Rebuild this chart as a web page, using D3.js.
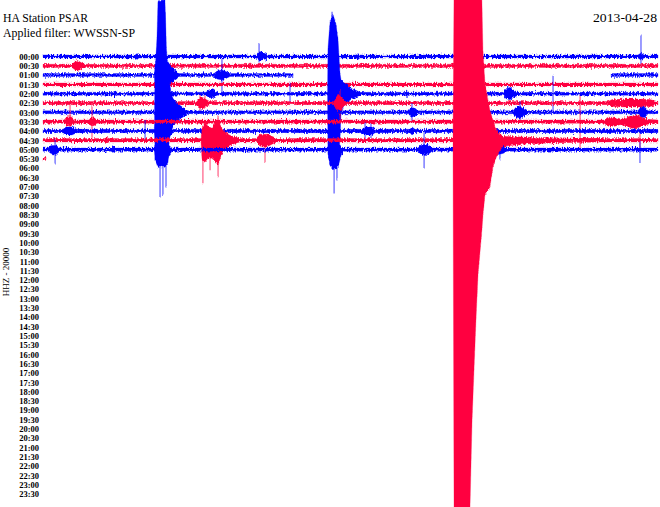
<!DOCTYPE html>
<html>
<head>
<meta charset="utf-8">
<script src="https://cdn.jsdelivr.net/npm/d3@7"></script>
<style>
  body { margin: 0; background: #fff; }
  svg { display: block; }
</style>
</head>
<body>
<div id="chart"></div>
<script>
// Helicorder plot: station PSAR, one row per 30 minutes, minutes 0-30 across.

const stationTitle = "HA Station PSAR";
const filterTitle = "Applied filter: WWSSN-SP";
const dateTitle = "2013-04-28";
const channelLabel = "HHZ - 20000";

const rowLabels = [
  "00:00", "00:30", "01:00", "01:30", "02:00", "02:30", "03:00", "03:30",
  "04:00", "04:30", "05:00", "05:30", "06:00", "06:30", "07:00", "07:30",
  "08:00", "08:30", "09:00", "09:30", "10:00", "10:30", "11:00", "11:30",
  "12:00", "12:30", "13:00", "13:30", "14:00", "14:30", "15:00", "15:30",
  "16:00", "16:30", "17:00", "17:30", "18:00", "18:30", "19:00", "19:30",
  "20:00", "20:30", "21:00", "21:30", "22:00", "22:30", "23:00", "23:30"
];

// alternating trace colours (even rows blue, odd rows red)
const traceColors = ["#0000ff", "#ff0040"];

// background noise half-amplitude per row, in thousands of counts
const noiseLevel = [3.2, 3.2, 3.0, 2.9, 3.0, 3.2, 3.0, 3.4, 3.4, 3.4, 3.2, 2.9];

// minutes with data in each row
const dataSpans = [
  [[0, 30]], [[0, 30]], [[0, 12.2], [27.71, 30]], [[0, 30]],
  [[0, 30]], [[0, 30]], [[0, 30]], [[0, 30]],
  [[0, 30]], [[0, 30]], [[0, 30]], [[0, 0.15]]
];

// signal envelopes: [minute, up, down] in thousands of counts
// (front: drawn over every row, as the big 04:50 arrival is)
const events = [
  { row: 0, env: [[4.49, 3.2, 3.2], [4.59, 6, 6], [4.68, 3.2, 3.2]] },
  { row: 0, env: [[10.39, 3.2, 3.2], [10.49, 8, 6], [10.59, 10, 8], [10.73, 8, 6], [10.88, 5, 5], [10.98, 3.2, 3.2]] },
  { row: 0, env: [[15.27, 3.2, 3.2], [15.37, 6, 6], [15.46, 3.2, 3.2]] },
  { row: 0, env: [[29.02, 3.2, 3.2], [29.17, 7, 7], [29.32, 3.2, 3.2]] },

  { row: 1, env: [[1.41, 3.2, 3.2], [1.56, 8, 8], [1.66, 11, 10], [1.80, 8, 8], [2.0, 3.2, 3.2]] },
  { row: 1, env: [[10.0, 3.2, 3.2], [10.10, 6, 6], [10.20, 3.2, 3.2]] },

  { row: 2, env: [[5.44, 3.0, 3.0], [5.46, 20, 20], [5.61, 40, 40], [5.95, 36, 36], [6.20, 20, 20], [6.39, 12, 12], [6.54, 7, 7], [6.63, 3.0, 3.0]] },
  { row: 2, env: [[8.34, 3.0, 3.0], [8.49, 8, 8], [8.73, 10, 10], [8.98, 6, 6], [9.12, 3.0, 3.0]] },

  { row: 4, env: [[3.41, 3.0, 3.0], [3.51, 6, 6], [3.61, 3.0, 3.0]] },
  { row: 4, env: [[7.95, 3.0, 3.0], [8.10, 8, 8], [8.29, 8, 8], [8.49, 3.0, 3.0]] },
  { row: 4, env: [[13.88, 3.0, 3.0], [13.90, 90, 120], [14.0, 144, 144], [14.15, 158, 150], [14.29, 140, 150], [14.39, 110, 130], [14.49, 40, 90], [14.54, 28, 40], [14.68, 22, 22], [14.88, 16, 16], [15.07, 10, 10], [15.32, 6, 6], [15.46, 3.0, 3.0]] },
  { row: 4, env: [[17.66, 3.0, 3.0], [17.76, 6, 6], [17.85, 3.0, 3.0]] },
  { row: 4, env: [[19.12, 3.0, 3.0], [19.22, 6, 6], [19.32, 3.0, 3.0]] },
  { row: 4, env: [[22.44, 3.0, 3.0], [22.59, 10, 10], [22.78, 13, 12], [22.93, 8, 8], [23.17, 3.0, 3.0]] },

  { row: 5, env: [[7.46, 3.2, 3.2], [7.61, 10, 10], [7.80, 11, 11], [8.0, 6, 6], [8.15, 3.2, 3.2]] },
  { row: 5, env: [[14.20, 3.2, 3.2], [14.29, 10, 10], [14.39, 18, 22], [14.49, 14, 24], [14.63, 8, 8], [14.78, 3.2, 3.2]] },
  { row: 5, env: [[27.56, 3.2, 3.2], [27.76, 7, 7], [28.39, 8, 8], [29.12, 8, 8], [29.61, 7, 7], [29.85, 4.5, 4.5]] },

  { row: 6, env: [[5.44, 3.0, 3.0], [5.46, 75, 80], [5.56, 150, 100], [5.61, 224, 108], [5.95, 224, 110], [6.02, 130, 106], [6.10, 80, 100], [6.15, 70, 60], [6.24, 40, 36], [6.34, 28, 28], [6.49, 20, 20], [6.68, 14, 14], [6.88, 8, 8], [7.07, 3.0, 3.0]] },
  { row: 6, env: [[17.85, 3.0, 3.0], [17.95, 10, 10], [18.15, 8, 8], [18.29, 3.0, 3.0]] },
  { row: 6, env: [[22.93, 3.0, 3.0], [23.07, 10, 10], [23.32, 12, 12], [23.51, 7, 7], [23.66, 3.0, 3.0]] },
  { row: 6, env: [[29.02, 3.0, 3.0], [29.17, 11, 11], [29.37, 10, 10], [29.51, 3.0, 3.0]] },

  { row: 7, env: [[1.02, 3.4, 3.4], [1.17, 10, 8], [1.37, 10, 8], [1.56, 3.4, 3.4]] },
  { row: 7, env: [[2.24, 3.4, 3.4], [2.34, 8, 8], [2.49, 8, 8], [2.63, 3.4, 3.4]] },
  { row: 7, env: [[27.37, 3.4, 3.4], [27.56, 9, 9], [27.90, 9, 9], [28.15, 6, 6], [28.49, 9, 9], [28.73, 13, 13], [29.02, 12, 12], [29.27, 8, 8], [29.51, 5, 5]] },

  { row: 8, env: [[0.98, 3.4, 3.4], [1.12, 8, 8], [1.41, 8, 8], [1.66, 3.4, 3.4]] },
  { row: 8, env: [[5.44, 3.4, 3.4], [5.46, 14, 14], [5.71, 16, 16], [6.10, 16, 16], [6.24, 8, 8], [6.34, 3.4, 3.4]] },
  { row: 8, env: [[15.56, 3.4, 3.4], [15.71, 8, 8], [16.05, 8, 8], [16.20, 3.4, 3.4]] },
  { row: 8, env: [[17.90, 3.4, 3.4], [18.0, 8, 8], [18.15, 3.4, 3.4]] },

  { row: 9, env: [[3.02, 3.4, 3.4], [3.12, 6, 6], [3.22, 3.4, 3.4]] },
  { row: 9, env: [[7.71, 3.4, 3.4], [7.76, 24, 40], [7.90, 36, 44], [8.05, 28, 36], [8.24, 24, 36], [8.44, 40, 44], [8.54, 40, 50], [8.68, 28, 32], [8.88, 16, 16], [9.12, 10, 10], [9.41, 6, 6], [9.61, 3.4, 3.4]] },
  { row: 9, env: [[10.39, 3.4, 3.4], [10.59, 12, 12], [10.98, 12, 12], [11.22, 7, 7], [11.41, 3.4, 3.4]] },
  { row: 9, front: true, env: [[20.0, 3.4, 3.4], [20.05, 300, 740], [20.83, 300, 734], [20.93, 300, 560], [21.12, 300, 360], [21.22, 300, 270], [21.41, 280, 180], [21.46, 180, 150], [21.56, 114, 110], [21.80, 60, 94], [21.95, 40, 54], [22.05, 26, 40], [22.20, 16, 26], [22.44, 8, 12], [23.76, 6, 7], [25.22, 5, 5], [27.17, 3.4, 3.4]] },

  { row: 10, env: [[0.24, 3.2, 3.2], [0.39, 8, 8], [0.63, 8, 10], [0.83, 3.2, 3.2]] },
  { row: 10, env: [[3.32, 3.2, 3.2], [3.41, 6, 6], [3.51, 3.2, 3.2]] },
  { row: 10, env: [[5.44, 3.2, 3.2], [5.46, 10, 20], [5.61, 16, 36], [6.0, 16, 32], [6.15, 8, 12], [6.29, 3.2, 3.2]] },
  { row: 10, env: [[13.90, 3.2, 3.2], [13.95, 10, 20], [14.15, 16, 40], [14.39, 16, 36], [14.54, 6, 12], [14.68, 3.2, 3.2]] },
  { row: 10, env: [[18.29, 3.2, 3.2], [18.44, 10, 10], [18.78, 10, 10], [18.98, 3.2, 3.2]] },
  { row: 10, env: [[22.05, 3.2, 3.2], [22.20, 10, 10], [22.44, 8, 8], [22.63, 3.2, 3.2]] }
];

// single large swings: [row, minute, up, down] in thousands of counts
const spikes = [
  [0, 10.54, 26, 12], [0, 29.17, 42, 16],
  [2, 8.73, 32, 36],
  [4, 12.05, 22, 18], [4, 14.10, 164, 0], [4, 24.88, 36, 34],
  [5, 7.66, 16, 16], [5, 7.90, 14, 12], [5, 14.49, 26, 32],
  [6, 5.66, 230, 0], [6, 5.85, 230, 0], [6, 5.95, 200, 0], [6, 18.0, 18, 22], [6, 23.27, 22, 22],
  [7, 1.32, 42, 18], [7, 2.39, 32, 32], [7, 26.20, 52, 52],
  [8, 4.98, 22, 18], [8, 15.71, 18, 14], [8, 16.0, 16, 12],
  [9, 7.80, 0, 86], [9, 8.15, 0, 60], [9, 8.54, 50, 74], [9, 7.90, 40, 0], [9, 10.83, 0, 44], [9, 29.12, 14, 20],
  [10, 0.59, 20, 28], [10, 5.71, 0, 96], [10, 5.85, 0, 92], [10, 6.0, 0, 76], [10, 14.20, 0, 88], [10, 14.34, 0, 60],
  [10, 18.59, 34, 38], [10, 22.29, 20, 20], [10, 29.12, 16, 28]
];

const width = 660, height = 507;

const svg = d3.select("#chart")
  .append("svg")
  .attr("width", width)
  .attr("height", height)
  .style("background", "#fff");

// Ragged edge filter so the traces read as dense seismic wiggles
const filter = svg.append("defs").append("filter")
  .attr("id", "wiggle")
  .attr("filterUnits", "userSpaceOnUse")
  .attr("x", 0).attr("y", 0)
  .attr("width", width).attr("height", height);

filter.append("feTurbulence")
  .attr("type", "fractalNoise")
  .attr("baseFrequency", "0.9 0.35")
  .attr("numOctaves", 2)
  .attr("seed", 3)
  .attr("result", "noise");

// keep red channel flat so nothing moves sideways
filter.append("feColorMatrix")
  .attr("in", "noise")
  .attr("type", "matrix")
  .attr("values", "0 0 0 0 0.5  0 1 0 0 0  0 0 1 0 0  0 0 0 0 1")
  .attr("result", "shift");

filter.append("feDisplacementMap")
  .attr("in", "SourceGraphic")
  .attr("in2", "shift")
  .attr("scale", 5)
  .attr("xChannelSelector", "R")
  .attr("yChannelSelector", "G");

// Scales
const x = d3.scaleLinear().domain([0, 30]).range([43, 658]);
const rowY = d3.scalePoint().domain(rowLabels).range([56.5, 494]);
const amp = d3.scaleLinear().domain([0, 20]).range([0, 10]);

// Titles
const titleFont = "12px 'Liberation Serif', serif";

svg.append("text")
  .attr("x", 3).attr("y", 22)
  .attr("textLength", 85)
  .attr("lengthAdjust", "spacingAndGlyphs")
  .style("font", titleFont)
  .text(stationTitle);

svg.append("text")
  .attr("x", 3).attr("y", 37)
  .attr("textLength", 132)
  .attr("lengthAdjust", "spacingAndGlyphs")
  .style("font", titleFont)
  .text(filterTitle);

svg.append("text")
  .attr("x", 593).attr("y", 22)
  .attr("textLength", 64)
  .attr("lengthAdjust", "spacingAndGlyphs")
  .style("font", titleFont)
  .text(dateTitle);

svg.append("text")
  .attr("transform", "translate(9,272) rotate(-90)")
  .attr("text-anchor", "middle")
  .style("font", "9px 'Liberation Serif', serif")
  .text(channelLabel);

// Row time labels
svg.append("g")
  .attr("transform", "translate(39,0)")
  .call(d3.axisLeft(rowY).tickSize(0).tickPadding(0))
  .call(g => g.select(".domain").remove())
  .selectAll("text")
  .style("font", "bold 8.5px 'Liberation Serif', serif")
  .attr("fill", "#000");

function rowArea(cy) {
  return d3.area()
    .x(d => x(d[0]))
    .y0(d => cy + amp(d[2]))
    .y1(d => cy - amp(d[1]));
}

// Traces, drawn row by row so later rows sit on top
dataSpans.forEach((spans, i) => {
  const cy = rowY(rowLabels[i]);
  const color = traceColors[i % 2];
  const n = noiseLevel[i];
  const g = svg.append("g")
    .attr("class", "row-" + i)
    .attr("filter", "url(#wiggle)");

  const area = rowArea(cy);
  const rowEnv = events.filter(e => e.row === i && !e.front).flatMap(e => e.env);

  spans.forEach(([a, b]) => {
    const pts = rowEnv.filter(p => p[0] > a && p[0] < b).sort((p, q) => p[0] - q[0]);
    const seg = [[a, n, n], ...pts, [b, n, n]];
    g.append("path")
      .datum(seg)
      .attr("d", area)
      .attr("fill", color)
      .attr("stroke", color)
      .attr("stroke-width", 0.7)
      .attr("stroke-opacity", 0.4);
  });

  g.selectAll("line")
    .data(spikes.filter(s => s[0] === i))
    .enter()
    .append("line")
    .attr("x1", d => x(d[1]))
    .attr("x2", d => x(d[1]))
    .attr("y1", d => cy - amp(d[2]))
    .attr("y2", d => cy + amp(d[3]))
    .attr("stroke", color)
    .attr("stroke-width", 1.3)
    .attr("stroke-opacity", 0.6);
});

// Large arrival drawn last, over the rows below it
const front = svg.append("g").attr("filter", "url(#wiggle)");
events.filter(e => e.front).forEach(e => {
  const cy = rowY(rowLabels[e.row]);
  front.append("path")
    .datum(e.env)
    .attr("d", rowArea(cy))
    .attr("fill", traceColors[e.row % 2])
    .attr("stroke", traceColors[e.row % 2])
    .attr("stroke-width", 0.7)
    .attr("stroke-opacity", 0.4);
});
</script>
</body>
</html>
